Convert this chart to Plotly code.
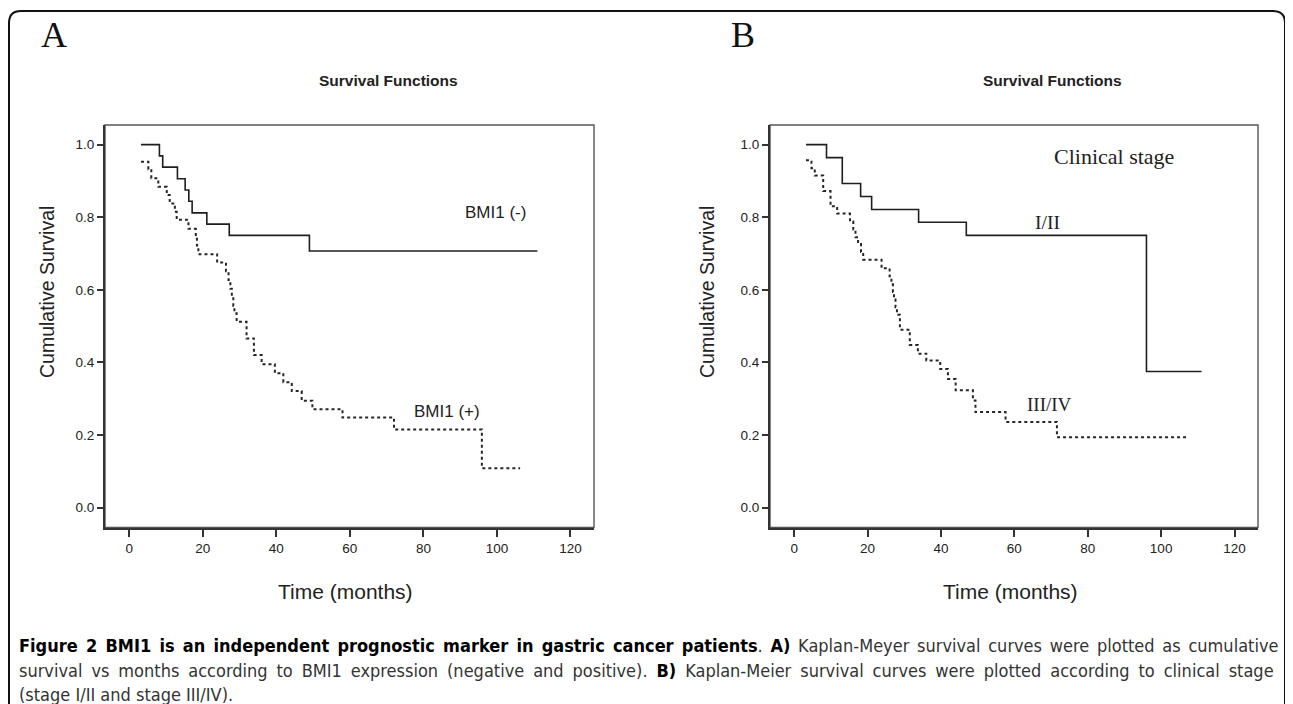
import plotly.graph_objects as go

W, H = 1293, 704
OFF = 8  # page body margin in the browser

# ---------------- data ----------------
# Panel A: BMI1 expression
a_neg_time = [3.2, 8.2, 9.1, 13.1, 15.2, 16.2, 17.1, 21.1, 27.2, 49.0, 111.0]
a_neg_surv = [1.0, 0.969, 0.938, 0.906, 0.875, 0.844, 0.812, 0.781, 0.75, 0.707, 0.707]

a_pos_time = [3.2, 5.2, 6.0, 7.9, 10.2, 11.0, 12.4, 12.9, 16.1, 18.1, 18.4, 18.8, 23.9,
              26.3, 27.0, 27.5, 27.9, 28.3, 28.6, 29.2, 31.9, 33.9, 36.0, 39.6, 41.9,
              44.2, 46.9, 49.8, 58.0, 72.0, 95.9, 106.3]
a_pos_surv = [0.953, 0.932, 0.907, 0.884, 0.861, 0.838, 0.815, 0.793, 0.768, 0.745, 0.722,
              0.698, 0.675, 0.651, 0.627, 0.603, 0.580, 0.556, 0.535, 0.512, 0.466, 0.420,
              0.395, 0.370, 0.345, 0.321, 0.294, 0.271, 0.248, 0.215, 0.108, 0.108]

# Panel B: clinical stage
b_early_time = [3.2, 8.8, 13.1, 18.1, 21.1, 33.9, 46.9, 96.0, 111.0]
b_early_surv = [1.0, 0.964, 0.893, 0.857, 0.821, 0.786, 0.75, 0.375, 0.375]

b_late_time = [3.2, 4.7, 5.6, 7.9, 9.9, 11.7, 15.2, 16.1, 16.7, 17.4, 18.2, 18.8, 23.8,
               26.0, 26.5, 26.9, 27.2, 27.6, 28.0, 28.8, 31.5, 33.7, 36.0, 39.8, 41.9,
               44.0, 48.7, 49.4, 57.6, 71.6, 106.9]
b_late_surv = [0.957, 0.935, 0.915, 0.872, 0.830, 0.810, 0.788, 0.766, 0.745, 0.726, 0.704,
               0.683, 0.659, 0.637, 0.615, 0.594, 0.573, 0.552, 0.531, 0.490, 0.448, 0.424,
               0.405, 0.382, 0.354, 0.323, 0.295, 0.263, 0.236, 0.194, 0.194]

x_ticks = [0, 20, 40, 60, 80, 100, 120]
y_ticks = [0.0, 0.2, 0.4, 0.6, 0.8, 1.0]

# ---------------- helpers (page pixels -> paper fractions) ----------------
def px(x):
    return (x - OFF) / W

def py(y):
    return 1 - (y - OFF) / H

fig = go.Figure()

solid = dict(color="#1e1e1e", width=1.6, shape="hv")
dotted = dict(color="#262626", width=2, dash="dot", shape="hv")

fig.add_trace(go.Scatter(x=a_neg_time, y=a_neg_surv, mode="lines", line=solid,
                         xaxis="x", yaxis="y", name="BMI1 (-)"))
fig.add_trace(go.Scatter(x=a_pos_time, y=a_pos_surv, mode="lines", line=dotted,
                         xaxis="x", yaxis="y", name="BMI1 (+)"))
fig.add_trace(go.Scatter(x=b_early_time, y=b_early_surv, mode="lines", line=solid,
                         xaxis="x2", yaxis="y2", name="I/II"))
fig.add_trace(go.Scatter(x=b_late_time, y=b_late_surv, mode="lines", line=dotted,
                         xaxis="x2", yaxis="y2", name="III/IV"))

ydom = [py(527.5), py(125)]
xdomA = [px(105), px(594)]
xdomB = [px(770), px(1258)]

tickfont = dict(family="Liberation Sans, Arial, sans-serif", size=13.5, color="#222")

def xax(dom, anchor):
    return dict(domain=dom, anchor=anchor, range=[-6.6, 126.4], tickvals=x_ticks,
                showgrid=False, zeroline=False, showline=True, linecolor="#333",
                linewidth=2, ticks="outside", ticklen=7, tickwidth=2, tickcolor="#333",
                tickfont=tickfont, fixedrange=True)

def yax(anchor):
    return dict(domain=ydom, anchor=anchor, range=[-0.055, 1.054], tickvals=y_ticks,
                tickformat=".1f", showgrid=False, zeroline=False, showline=True,
                linecolor="#333", linewidth=2, ticks="outside", ticklen=6, tickwidth=2,
                tickcolor="#333", tickfont=tickfont, fixedrange=True)

fig.update_layout(
    width=W, height=H,
    margin=dict(l=0, r=0, t=0, b=0),
    paper_bgcolor="white", plot_bgcolor="white",
    showlegend=False,
    xaxis=xax(xdomA, "y"), yaxis=yax("x"),
    xaxis2=xax(xdomB, "y2"), yaxis2=yax("x2"),
)

# box top/right edges (thinner, gray)
for xr, yr in (("x domain", "y domain"), ("x2 domain", "y2 domain")):
    fig.add_shape(type="rect", xref=xr, yref=yr, x0=0, x1=1, y0=0, y1=1,
                  line=dict(color="#555", width=1.4), layer="below")

# outer rounded border
l, r, t, b = px(9), px(1285), py(11), py(730)
rx, ry = 12 / W, 12 / H
path = (f"M {l},{b} L {l},{t - ry} Q {l},{t} {l + rx},{t} "
        f"L {r - rx},{t} Q {r},{t} {r},{t - ry} L {r},{b}")
fig.add_shape(type="path", xref="paper", yref="paper", path=path,
              line=dict(color="#111", width=2))

ann = []
serif = "Liberation Serif, Times New Roman, serif"
sans = "Liberation Sans, Arial, sans-serif"

def pa(text, x, y, font, **kw):
    d = dict(text=text, x=px(x), y=py(y), xref="paper", yref="paper",
             xanchor="center", yanchor="middle", showarrow=False, font=font)
    d.update(kw)
    ann.append(d)

# panel letters
pa("A", 54, 35, dict(family=serif, size=36, color="#111"))
pa("B", 743, 35, dict(family=serif, size=36, color="#111"))
# titles
for cx in (389, 1052):
    pa("<b>Survival Functions</b>", cx, 80, dict(family=sans, size=15.5, color="#222"))
# axis titles
for cx in (47, 707):
    pa("Cumulative Survival", cx, 292, dict(family=sans, size=19.5, color="#222"),
       textangle=-90)
for cx in (345, 1010):
    pa("Time (months)", cx, 591, dict(family=sans, size=21, color="#222"))

# curve labels (data coordinates)
def da(text, x, y, xr, yr, font):
    ann.append(dict(text=text, x=x, y=y, xref=xr, yref=yr, xanchor="center",
                    yanchor="middle", showarrow=False, font=font))

da("BMI1 (-)", 99.5, 0.814, "x", "y", dict(family=sans, size=17, color="#222"))
da("BMI1 (+)", 86.3, 0.266, "x", "y", dict(family=sans, size=17, color="#222"))
da("Clinical stage", 87.2, 0.967, "x2", "y2", dict(family=serif, size=22, color="#222"))
da("I/II", 69.0, 0.786, "x2", "y2", dict(family=serif, size=19.5, color="#222"))
da("III/IV", 69.6, 0.285, "x2", "y2", dict(family=serif, size=19, color="#222"))

# caption
cap_font = dict(family="Liberation Sans Narrow, DejaVu Sans Condensed, Arial Narrow, sans-serif",
                size=18, color="#333")
lines = [
    "<span style='word-spacing:2.6px'><span style='color:#000'><b>Figure 2 BMI1 is an independent prognostic marker in gastric cancer patients</b></span>. "
    "<span style='color:#000'><b>A)</b></span> Kaplan-Meyer survival curves were plotted as cumulative</span>",
    "<span style='word-spacing:3.8px'>survival vs months according to BMI1 expression (negative and positive). "
    "<span style='color:#000'><b>B)</b></span> Kaplan-Meier survival curves were plotted according to clinical stage</span>",
    "(stage I/II and stage III/IV).",
]
for i, (txt, yy) in enumerate(zip(lines, (645, 670, 694))):
    ann.append(dict(text=txt, x=px(17), y=py(yy), xref="paper", yref="paper",
                    xanchor="left", yanchor="middle", showarrow=False, font=cap_font))

fig.update_layout(annotations=ann)
fig.write_html("out.html")
